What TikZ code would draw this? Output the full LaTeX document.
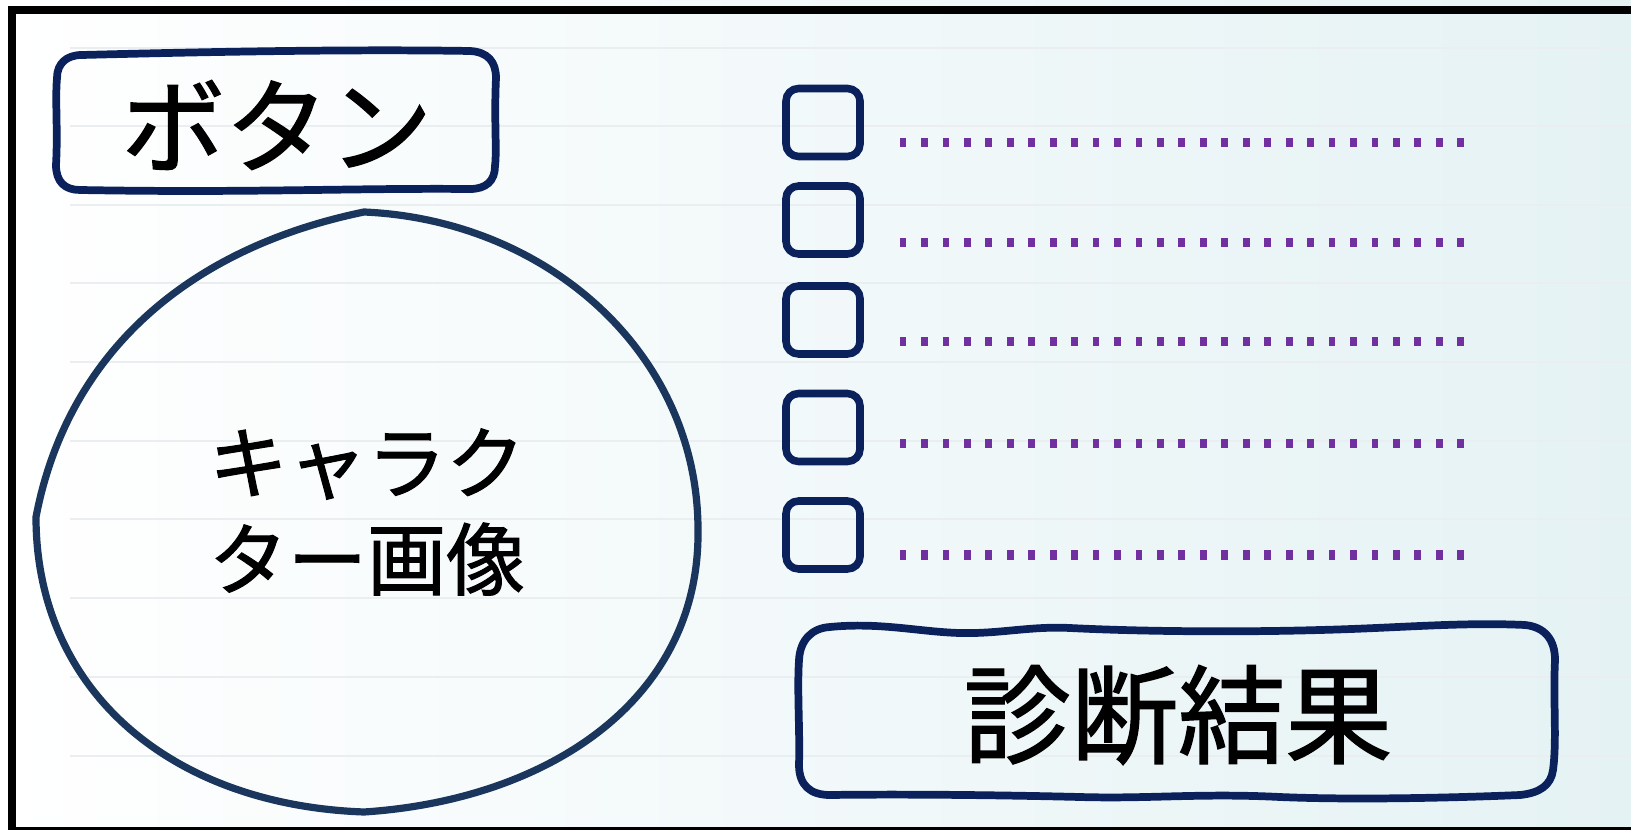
\documentclass[tikz,border=0pt]{standalone}
\usepackage{fontspec}
\newfontfamily\jp[FakeBold=1.3]{Noto Sans CJK JP}
\definecolor{navy}{RGB}{10,33,92}
\definecolor{blobc}{RGB}{27,54,93}
\definecolor{dotc}{RGB}{112,48,160}
\definecolor{bgr}{RGB}{229,242,244}
\definecolor{rulec}{RGB}{234,238,241}
\begin{document}
\begin{tikzpicture}[x=0.02cm,y=-0.02cm,
  outline/.style={draw=navy,line width=4.4pt,line join=round,line cap=round},
  blob/.style={draw=blobc,line width=4.1pt,line join=round},
  chk/.style={draw=navy,line width=4.3pt,rounded corners=0.25cm,minimum width=1.48cm,minimum height=1.36cm,inner sep=0pt},
  rulel/.style={draw=rulec,line width=1.1pt},
  jptext/.style={font=\jp,text=black,inner sep=0pt,align=center},
  dotm/.style={fill=dotc}]
\useasboundingbox (0,0) rectangle (1631,830);
\clip (0,0) rectangle (1631,830);
% background
\shade[left color=white,right color=bgr] (0,0) rectangle (1631,830);
\foreach \yy in {48,126,205,283,362,441,519,598,677,756}
  \draw[rulel] (70,\yy) -- (1631,\yy);
% frame
\draw[line width=4.3pt] (12,10) rectangle (1650,831);
% button box
\draw[outline] (82,55) .. controls (200,52) and (350,49) .. (470,51)
  .. controls (488,52) and (496,62) .. (496,78)
  .. controls (494,120) and (497,150) .. (495,166)
  .. controls (495,181) and (486,189) .. (470,189)
  .. controls (350,188) and (250,193) .. (80,190)
  .. controls (65,190) and (56,182) .. (56,165)
  .. controls (58,130) and (55,100) .. (57,78)
  .. controls (57,64) and (66,55) .. cycle;
\node[jptext,font=\jp\fontsize{59pt}{59pt}\selectfont] (btn) at (277,125) {ボタン};
% character image blob
\draw[blob] (364,212) .. controls (548,220) and (698,354) .. (698,530)
  .. controls (700,700) and (548,800) .. (364,812)
  .. controls (170,805) and (36,690) .. (36,517)
  .. controls (66,360) and (180,250) .. cycle;
\node[jptext,font=\jp\fontsize{45pt}{55pt}\selectfont] (img) at (367,512) {キャラク\\ター画像};
% checkboxes
\node[chk] (c1) at (823,122.5) {};
\node[chk] (c2) at (823,220) {};
\node[chk] (c3) at (823,320) {};
\node[chk] (c4) at (823,427.5) {};
\node[chk] (c5) at (823,535) {};
% dotted lines
\foreach \yy in {142.7,242.7,341.7,443.3,555}
  \foreach \i in {0,...,26}
    \fill[dotm] ({903+21.45*\i-3.4},{\yy-4.6}) rectangle ++(6.8,9.2);
% result box
\draw[outline] (830,627) .. controls (880,622) and (920,632) .. (960,633)
  .. controls (1000,634) and (1030,626) .. (1070,628)
  .. controls (1150,632) and (1250,632) .. (1320,630)
  .. controls (1400,628) and (1460,622) .. (1525,625)
  .. controls (1545,627) and (1555,640) .. (1555,660)
  .. controls (1553,700) and (1557,740) .. (1553,770)
  .. controls (1551,785) and (1540,793) .. (1520,795)
  .. controls (1450,798) and (1350,800) .. (1280,797)
  .. controls (1200,793) and (1150,799) .. (1080,797)
  .. controls (1000,795) and (900,794) .. (830,795)
  .. controls (810,795) and (799,785) .. (799,765)
  .. controls (800,730) and (797,690) .. (799,660)
  .. controls (800,640) and (812,628) .. cycle;
\node[jptext,font=\jp\fontsize{61pt}{61pt}\selectfont] (res) at (1178,715) {診断結果};
\end{tikzpicture}
\end{document}
